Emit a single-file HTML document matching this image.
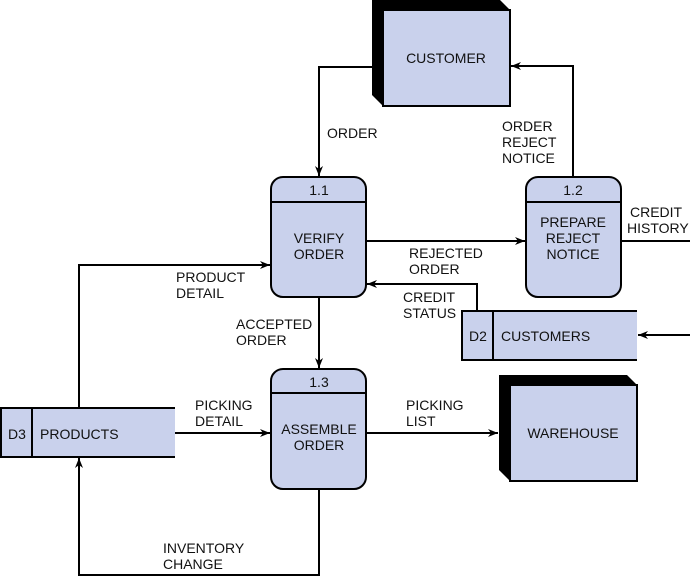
<!DOCTYPE html>
<html><head><style>
html,body{margin:0;padding:0;background:#fff;}
svg{display:block;}
text{font-family:"Liberation Sans",sans-serif;font-size:14px;fill:#111;}
</style></head><body>
<svg width="690" height="576" viewBox="0 0 690 576" xmlns="http://www.w3.org/2000/svg">
<defs>
<marker id="a" markerWidth="10" markerHeight="8" refX="10" refY="4" orient="auto" markerUnits="userSpaceOnUse">
<path d="M0,0 L10,4 L0,8 L3,4 Z" fill="#000"/>
</marker>
</defs>
<g fill="none" stroke="#000" stroke-width="2">
<polyline points="372,67 319,67 319,176" marker-end="url(#a)"/>
<polyline points="573,177 573,66 511,66" marker-end="url(#a)"/>
<line x1="621" y1="241" x2="690" y2="241"/>
<line x1="366" y1="241" x2="525" y2="241" marker-end="url(#a)"/>
<polyline points="477,311 477,284 367,284" marker-end="url(#a)"/>
<line x1="690" y1="335" x2="638" y2="335" marker-end="url(#a)"/>
<polyline points="79,408 79,265 270,265" marker-end="url(#a)"/>
<line x1="319" y1="297" x2="319" y2="368" marker-end="url(#a)"/>
<line x1="175" y1="433" x2="270" y2="433" marker-end="url(#a)"/>
<line x1="366" y1="433" x2="498" y2="433" marker-end="url(#a)"/>
<polyline points="319,489 319,575 79,575 79,458" marker-end="url(#a)"/>
</g>
<path d="M372,0 L500,0 L510,10 L510,106 L383,106 L372,95 Z" fill="#000"/>
<rect x="383" y="10" width="127" height="96" fill="#c9d1ec" stroke="#000" stroke-width="2"/>
<text x="446" y="63" text-anchor="middle">CUSTOMER</text>
<path d="M499,375 L627,375 L637,385 L637,481 L510,481 L499,470 Z" fill="#000"/>
<rect x="510" y="385" width="127" height="96" fill="#c9d1ec" stroke="#000" stroke-width="2"/>
<text x="573" y="438" text-anchor="middle">WAREHOUSE</text>
<g fill="#c9d1ec" stroke="#000" stroke-width="2">
<rect x="271" y="177" width="95" height="120" rx="12"/>
<rect x="526" y="177" width="95" height="120" rx="12"/>
<rect x="271" y="369" width="95" height="120" rx="12"/>
</g>
<g stroke="#000" stroke-width="2">
<line x1="271" y1="202" x2="366" y2="202"/>
<line x1="526" y1="202" x2="621" y2="202"/>
<line x1="271" y1="393" x2="366" y2="393"/>
</g>
<text x="319" y="195" text-anchor="middle">1.1</text>
<text x="319" y="243" text-anchor="middle">VERIFY</text>
<text x="319" y="259" text-anchor="middle">ORDER</text>
<text x="573" y="195" text-anchor="middle">1.2</text>
<text x="573" y="227" text-anchor="middle">PREPARE</text>
<text x="573" y="243" text-anchor="middle">REJECT</text>
<text x="573" y="259" text-anchor="middle">NOTICE</text>
<text x="319" y="387" text-anchor="middle">1.3</text>
<text x="319" y="434" text-anchor="middle">ASSEMBLE</text>
<text x="319" y="450" text-anchor="middle">ORDER</text>
<rect x="0" y="408" width="175" height="49" fill="#c9d1ec"/>
<g stroke="#000" stroke-width="2" fill="none">
<polyline points="175,408 1,408 1,457 175,457"/>
<line x1="32" y1="408" x2="32" y2="457"/>
</g>
<text x="8" y="439">D3</text>
<text x="40" y="439">PRODUCTS</text>
<rect x="461" y="311" width="176" height="49" fill="#c9d1ec"/>
<g stroke="#000" stroke-width="2" fill="none">
<polyline points="637,311 462,311 462,360 637,360"/>
<line x1="493" y1="311" x2="493" y2="360"/>
</g>
<text x="469" y="341">D2</text>
<text x="501" y="341">CUSTOMERS</text>
<text x="327" y="138">ORDER</text>
<text x="502" y="131">ORDER</text>
<text x="502" y="147">REJECT</text>
<text x="502" y="163">NOTICE</text>
<text x="630" y="217">CREDIT</text>
<text x="627" y="233">HISTORY</text>
<text x="409" y="258">REJECTED</text>
<text x="409" y="274">ORDER</text>
<text x="403" y="302">CREDIT</text>
<text x="403" y="318">STATUS</text>
<text x="176" y="282">PRODUCT</text>
<text x="176" y="298">DETAIL</text>
<text x="236" y="329">ACCEPTED</text>
<text x="236" y="345">ORDER</text>
<text x="195" y="410">PICKING</text>
<text x="195" y="426">DETAIL</text>
<text x="406" y="410">PICKING</text>
<text x="406" y="426">LIST</text>
<text x="163" y="553">INVENTORY</text>
<text x="163" y="569">CHANGE</text>
</svg>
</body></html>
